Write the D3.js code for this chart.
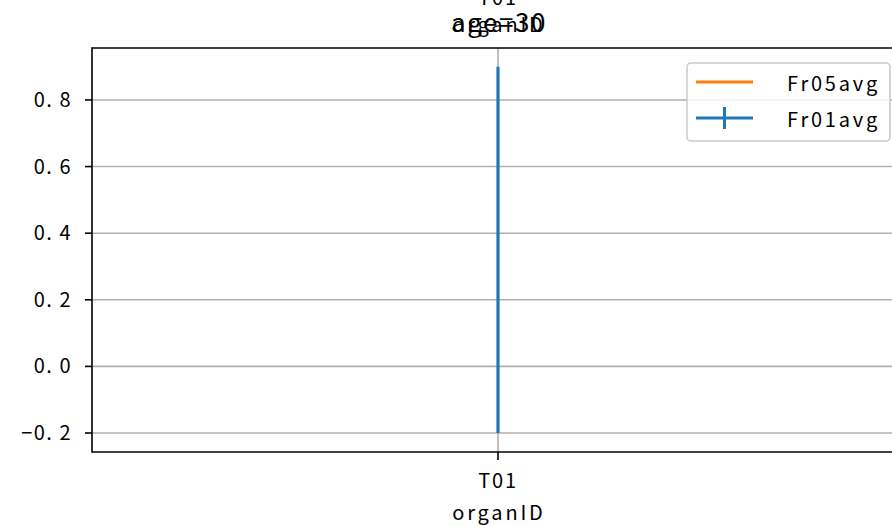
<!DOCTYPE html>
<html>
<head>
<meta charset="utf-8">
<script src="https://cdn.jsdelivr.net/npm/d3@7"></script>
<style>
  html, body { margin: 0; padding: 0; background: #fff; }
  svg text { font-family: "Noto Sans CJK SC", "DejaVu Sans", sans-serif; }
</style>
</head>
<body>
<svg id="chart" width="892" height="526"></svg>
<script>
// ---- data ----
const categories = ["T01"];
const fr05avg = [0.35];
const fr01avg = [0.35];
const fr01err = [0.55];
const yTicks = [-0.2, 0.0, 0.2, 0.4, 0.6, 0.8];
const title = "age=30";
const xLabel = "organID";

// ---- layout ----
const svg = d3.select("#chart");
const L = 92, R = 904, T = 48, B = 452;

const x = d3.scalePoint().domain(categories).range([L, R]).padding(0.5);
const y = d3.scaleLinear().domain([-0.257, 0.956]).range([B, T]);

const gridColor = "#b0b0b0";

// y grid
svg.append("g").selectAll("line").data(yTicks).join("line")
  .attr("x1", L).attr("x2", R)
  .attr("y1", d => y(d)).attr("y2", d => y(d))
  .attr("stroke", gridColor).attr("stroke-width", 1.6);
// x grid
svg.append("g").selectAll("line").data(categories).join("line")
  .attr("x1", d => x(d)).attr("x2", d => x(d))
  .attr("y1", T).attr("y2", B)
  .attr("stroke", gridColor).attr("stroke-width", 1.6);

// Fr05avg line (single point -> invisible)
const line = d3.line().x((d, i) => x(categories[i])).y(d => y(d));
svg.append("path").datum(fr05avg).attr("d", line)
  .attr("fill", "none").attr("stroke", "#ff7f0e").attr("stroke-width", 3);

// Fr01avg errorbar
svg.append("path").datum(fr01avg).attr("d", line)
  .attr("fill", "none").attr("stroke", "#1f77b4").attr("stroke-width", 3);
svg.append("g").selectAll("line").data(fr01avg).join("line")
  .attr("x1", (d, i) => x(categories[i])).attr("x2", (d, i) => x(categories[i]))
  .attr("y1", (d, i) => y(d - fr01err[i])).attr("y2", (d, i) => y(d + fr01err[i]))
  .attr("stroke", "#1f77b4").attr("stroke-width", 3.2);

// spines
svg.append("line").attr("x1", L).attr("x2", L).attr("y1", T - 0.8).attr("y2", B + 0.8)
  .attr("stroke", "#000").attr("stroke-width", 1.6);
svg.append("line").attr("x1", L).attr("x2", R).attr("y1", T).attr("y2", T)
  .attr("stroke", "#000").attr("stroke-width", 1.6);
svg.append("line").attr("x1", L).attr("x2", R).attr("y1", B).attr("y2", B)
  .attr("stroke", "#000").attr("stroke-width", 1.6);

// y axis ticks & labels
const fmt = d3.format(".1f");
const yg = svg.append("g");
yg.selectAll("line").data(yTicks).join("line")
  .attr("x1", L - 7).attr("x2", L)
  .attr("y1", d => y(d)).attr("y2", d => y(d))
  .attr("stroke", "#000").attr("stroke-width", 1.6);
yg.selectAll("text").data(yTicks).join("text")
  .attr("x", L - 20).attr("y", d => y(d) + 7)
  .attr("text-anchor", "end").attr("font-size", 20)
  .attr("letter-spacing", 1.5)
  .text(d => fmt(d).replace("-", "\u2212").replace(".", ". "));

// x axis bottom
const xg = svg.append("g");
xg.selectAll("line").data(categories).join("line")
  .attr("x1", d => x(d)).attr("x2", d => x(d))
  .attr("y1", B).attr("y2", B + 8)
  .attr("stroke", "#000").attr("stroke-width", 1.6);
xg.selectAll("text.b").data(categories).join("text").attr("class", "b")
  .attr("x", d => x(d)).attr("y", 488)
  .attr("text-anchor", "middle").attr("font-size", 20).attr("letter-spacing", 1.8)
  .text(d => d);
svg.append("text").attr("x", x(categories[0]) + 1).attr("y", 520)
  .attr("text-anchor", "middle").attr("font-size", 20).attr("letter-spacing", 2.8)
  .text(xLabel);

// x axis top labels
xg.selectAll("text.t").data(categories).join("text").attr("class", "t")
  .attr("x", d => x(d)).attr("y", 5)
  .attr("text-anchor", "middle").attr("font-size", 20).attr("letter-spacing", 1.8)
  .text(d => d);
svg.append("text").attr("x", x(categories[0]) + 1).attr("y", 32)
  .attr("text-anchor", "middle").attr("font-size", 20).attr("letter-spacing", 2.8)
  .text(xLabel);

// title
svg.append("text").attr("x", x(categories[0]) + 1).attr("y", 32)
  .attr("text-anchor", "middle").attr("font-size", 26).attr("letter-spacing", 1.6)
  .text(title);

// legend
const lg = svg.append("g");
lg.append("rect").attr("x", 687).attr("y", 63).attr("width", 203).attr("height", 78)
  .attr("rx", 4).attr("fill", "#fff").attr("fill-opacity", 0.8)
  .attr("stroke", "#cccccc").attr("stroke-width", 1.6);
const legendItems = [
  { name: "Fr05avg", color: "#ff7f0e", err: false },
  { name: "Fr01avg", color: "#1f77b4", err: true }
];
legendItems.forEach((it, i) => {
  const cy = 82 + i * 36;
  lg.append("line").attr("x1", 696).attr("x2", 753).attr("y1", cy).attr("y2", cy)
    .attr("stroke", it.color).attr("stroke-width", 3);
  if (it.err) {
    lg.append("line").attr("x1", 724.5).attr("x2", 724.5).attr("y1", cy - 11).attr("y2", cy + 11)
      .attr("stroke", it.color).attr("stroke-width", 3);
  }
  lg.append("text").attr("x", 787).attr("y", cy + 9).attr("font-size", 20)
    .attr("letter-spacing", 2.8).text(it.name);
});
</script>
</body>
</html>
